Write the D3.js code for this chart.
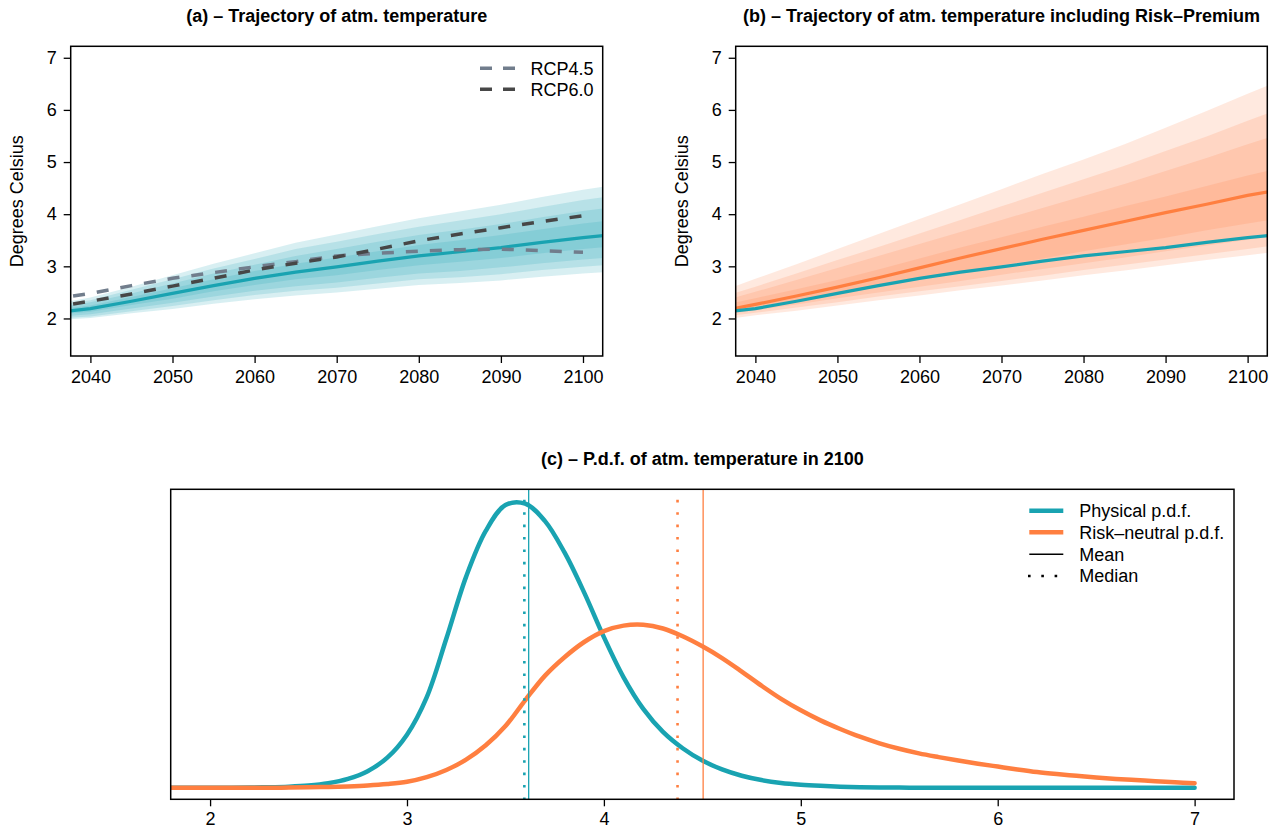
<!DOCTYPE html>
<html>
<head>
<meta charset="utf-8">
<script src="https://cdn.jsdelivr.net/npm/d3@7"></script>
<style>
body { margin:0; background:#fff; }
svg { display:block; font-family:"Liberation Sans", Arial, Helvetica, sans-serif; }
</style>
</head>
<body>
<svg id="chart" width="1278" height="830"></svg>
<script>
// ---- data ----
var years = [2035,2040,2045,2050,2055,2060,2065,2070,2075,2080,2085,2090,2095,2100,2105];

// (a) physical trajectory: central line and quantile bands
var physMid = [2.10,2.19,2.33,2.48,2.63,2.77,2.89,2.99,3.10,3.20,3.28,3.36,3.46,3.55,3.63];
var physP95 = [2.26,2.40,2.61,2.83,3.05,3.25,3.45,3.61,3.77,3.92,4.05,4.18,4.33,4.47,4.59];
var physP90 = [2.23,2.35,2.55,2.75,2.96,3.14,3.33,3.47,3.62,3.76,3.88,4.00,4.14,4.27,4.38];
var physP75 = [2.19,2.31,2.48,2.67,2.86,3.03,3.20,3.33,3.47,3.60,3.70,3.81,3.94,4.06,4.16];
var physP60 = [2.15,2.25,2.41,2.58,2.75,2.91,3.05,3.17,3.29,3.41,3.50,3.60,3.71,3.82,3.91];
var physP40 = [2.06,2.13,2.26,2.38,2.52,2.64,2.75,2.83,2.93,3.02,3.09,3.16,3.25,3.33,3.40];
var physP25 = [2.02,2.08,2.19,2.30,2.42,2.53,2.62,2.69,2.78,2.86,2.91,2.98,3.06,3.13,3.19];
var physP10 = [1.99,2.04,2.14,2.24,2.35,2.45,2.53,2.59,2.67,2.75,2.79,2.85,2.93,2.99,3.05];
var physP5  = [1.96,2.01,2.10,2.18,2.28,2.37,2.44,2.50,2.57,2.64,2.68,2.73,2.80,2.86,2.91];

// (a) RCP scenarios
var rcpYears = [2035,2040,2045,2050,2055,2060,2065,2070,2075,2080,2085,2090,2095,2100];
var rcp45 = [2.36,2.48,2.63,2.77,2.88,2.99,3.09,3.20,3.25,3.29,3.32,3.33,3.30,3.27];
var rcp60 = [2.21,2.33,2.47,2.62,2.77,2.93,3.06,3.18,3.33,3.49,3.62,3.74,3.86,3.97];

// (b) risk-neutral trajectory
var rnMid = [2.12,2.27,2.43,2.60,2.78,2.97,3.16,3.34,3.52,3.69,3.86,4.03,4.19,4.36,4.50];
var rnP95 = [2.47,2.76,3.04,3.33,3.62,3.91,4.19,4.48,4.77,5.05,5.34,5.66,5.98,6.31,6.63];
var rnP90 = [2.37,2.61,2.86,3.12,3.37,3.63,3.89,4.15,4.41,4.67,4.93,5.21,5.49,5.79,6.08];
var rnP75 = [2.29,2.51,2.74,2.97,3.20,3.43,3.66,3.89,4.12,4.35,4.58,4.83,5.08,5.34,5.59];
var rnP60 = [2.22,2.39,2.56,2.74,2.94,3.15,3.36,3.56,3.76,3.95,4.15,4.34,4.54,4.74,4.93];
var rnP40 = [2.09,2.22,2.35,2.49,2.62,2.75,2.89,3.02,3.15,3.29,3.42,3.55,3.69,3.82,3.95];
var rnP25 = [2.05,2.16,2.27,2.39,2.50,2.61,2.72,2.84,2.95,3.06,3.17,3.29,3.40,3.51,3.62];
var rnP10 = [2.01,2.11,2.21,2.31,2.42,2.52,2.62,2.72,2.82,2.93,3.03,3.13,3.23,3.33,3.44];
var rnP5  = [1.96,2.06,2.15,2.25,2.35,2.44,2.54,2.63,2.73,2.83,2.92,3.02,3.12,3.21,3.31];

// (c) densities in 2100 (relative heights), 1.8 .. 7.0 by 0.1
var pdfTemp = [1.8,1.9,2.0,2.1,2.2,2.3,2.4,2.5,2.6,2.7,2.8,2.9,3.0,3.1,3.2,3.3,3.4,3.5,3.6,3.7,3.8,3.9,
               4.0,4.1,4.2,4.3,4.4,4.5,4.6,4.7,4.8,4.9,5.0,5.1,5.2,5.3,5.4,5.5,5.6,5.7,5.8,5.9,
               6.0,6.1,6.2,6.3,6.4,6.5,6.6,6.7,6.8,6.9,7.0];
var pdfPhys = [0,0,0,0,0.001,0.002,0.004,0.008,0.016,0.031,0.058,0.105,0.185,0.315,0.52,0.735,0.895,0.985,0.99,0.93,0.82,0.68,
               0.525,0.385,0.275,0.195,0.138,0.095,0.064,0.042,0.027,0.017,0.011,0.007,0.004,0.002,0.001,0.001,0,0,0,0,
               0,0,0,0,0,0,0,0,0,0,0];
var pdfRisk = [0,0,0,0,0,0,0.001,0.002,0.003,0.005,0.008,0.013,0.021,0.037,0.062,0.098,0.148,0.215,0.305,0.39,0.455,0.508,
               0.546,0.565,0.568,0.555,0.528,0.493,0.452,0.405,0.356,0.31,0.27,0.235,0.205,0.178,0.155,0.136,0.12,0.107,0.095,0.084,
               0.074,0.064,0.055,0.048,0.042,0.036,0.031,0.027,0.023,0.019,0.016];
var physMean = 3.618, physMedian = 3.596;
var riskMean = 4.504, riskMedian = 4.374;

var yearTicks = [2040,2050,2060,2070,2080,2090,2100];
var tempTicks = [2,3,4,5,6,7];

// ---- drawing ----
var svg = d3.select('#chart');
var teal = '#19a3b1', orange = '#ff7f40';
var col45 = '#717d8c', col60 = '#474747';
var FS = 18;

function clipped(box, id) {
    svg.append('clipPath').attr('id', id).append('rect')
        .attr('x', box.l).attr('y', box.t).attr('width', box.r - box.l).attr('height', box.b - box.t);
    return svg.append('g').attr('clip-path', 'url(#' + id + ')');
}

function styleAxis(g) {
    g.attr('font-size', FS).attr('font-family', null);
    g.select('.domain').remove();
    g.selectAll('.tick line').attr('stroke', '#000').attr('stroke-width', 1.3);
    g.selectAll('.tick text').attr('fill', '#000');
}

function drawBox(box) {
    svg.append('rect').attr('x', box.l).attr('y', box.t)
        .attr('width', box.r - box.l).attr('height', box.b - box.t)
        .attr('fill', 'none').attr('stroke', '#000').attr('stroke-width', 1.5);
}

function title(txt, cx, y) {
    svg.append('text').attr('x', cx).attr('y', y).attr('text-anchor', 'middle')
        .attr('font-size', FS).attr('font-weight', 'bold').text(txt);
}

function trajPanel(box, id) {
    var x = d3.scaleLinear().domain([2037.6, 2102.4]).range([box.l, box.r]);
    var y = d3.scaleLinear().domain([1.28, 7.22]).range([box.b, box.t]);
    var g = clipped(box, id);
    svg.append('g').attr('transform', 'translate(0,' + box.b + ')')
        .call(d3.axisBottom(x).tickValues(yearTicks).tickSize(7).tickPadding(7).tickFormat(d3.format('d')))
        .call(styleAxis);
    svg.append('g').attr('transform', 'translate(' + box.l + ',0)')
        .call(d3.axisLeft(y).tickValues([2,3,4,5,6,7]).tickSize(7).tickPadding(7).tickFormat(d3.format('d')))
        .call(styleAxis);
    svg.append('text').attr('transform', 'translate(' + (box.l - 47.5) + ',' + ((box.t + box.b) / 2) + ') rotate(-90)')
        .attr('text-anchor', 'middle').attr('font-size', FS).text('Degrees Celsius');
    return {x: x, y: y, g: g};
}

function bands(p, pairs, color) {
    pairs.forEach(function (pr) {
        var area = d3.area()
            .x(function (d, i) { return p.x(years[i]); })
            .y0(function (d, i) { return p.y(pr[0][i]); })
            .y1(function (d, i) { return p.y(pr[1][i]); });
        p.g.append('path').attr('d', area(years)).attr('fill', color).attr('fill-opacity', 0.17);
    });
}

function line(p, xs, vals, color, w, dash) {
    var ln = d3.line().x(function (d, i) { return p.x(xs[i]); }).y(function (d) { return p.y(d); });
    var path = p.g.append('path').attr('d', ln(vals)).attr('fill', 'none')
        .attr('stroke', color).attr('stroke-width', w);
    if (dash) path.attr('stroke-dasharray', dash);
    return path;
}

// panel (a)
var boxA = {l: 70.7, r: 602.7, t: 46.3, b: 356};
var pa = trajPanel(boxA, 'clipA');
bands(pa, [[physP5, physP95], [physP10, physP90], [physP25, physP75], [physP40, physP60]], teal);
line(pa, years, physMid, teal, 3.2);
line(pa, rcpYears, rcp45, col45, 3.5, '12,12');
line(pa, rcpYears, rcp60, col60, 3.5, '12,12');
drawBox(boxA);
title('(a) \u2013 Trajectory of atm. temperature', (boxA.l + boxA.r) / 2, 22);

var legA = svg.append('g');
[['RCP4.5', col45, 68.3], ['RCP6.0', col60, 89.3]].forEach(function (r) {
    legA.append('line').attr('x1', 480).attr('x2', 515).attr('y1', r[2]).attr('y2', r[2])
        .attr('stroke', r[1]).attr('stroke-width', 3.5).attr('stroke-dasharray', '12,11');
    legA.append('text').attr('x', 530.5).attr('y', r[2]).attr('dy', '0.36em')
        .attr('font-size', FS).text(r[0]);
});

// panel (b)
var boxB = {l: 735.7, r: 1267.3, t: 46.3, b: 356};
var pb = trajPanel(boxB, 'clipB');
bands(pb, [[rnP5, rnP95], [rnP10, rnP90], [rnP25, rnP75], [rnP40, rnP60]], orange);
line(pb, years, rnMid, orange, 3.2);
line(pb, years, physMid, teal, 3.2);
drawBox(boxB);
title('(b) \u2013 Trajectory of atm. temperature including Risk\u2013Premium', (boxB.l + boxB.r) / 2, 22);

// panel (c)
var boxC = {l: 170.7, r: 1234, t: 489.3, b: 799.3};
var xc = d3.scaleLinear().domain([1.8, 7.2]).range([boxC.l, boxC.r]);
var yc = d3.scaleLinear().domain([-0.04, 1.04]).range([boxC.b, boxC.t]);
var gc = clipped(boxC, 'clipC');
svg.append('g').attr('transform', 'translate(0,' + boxC.b + ')')
    .call(d3.axisBottom(xc).tickValues(tempTicks).tickSize(7).tickPadding(6).tickFormat(d3.format('d')))
    .call(styleAxis);

var pdfLine = d3.line().curve(d3.curveCatmullRom)
    .x(function (d, i) { return xc(pdfTemp[i]); }).y(function (d) { return yc(d); });
gc.append('path').attr('d', pdfLine(pdfPhys)).attr('fill', 'none').attr('stroke', teal)
    .attr('stroke-width', 4.5).attr('stroke-linecap', 'round');
gc.append('path').attr('d', pdfLine(pdfRisk)).attr('fill', 'none').attr('stroke', orange)
    .attr('stroke-width', 4.5).attr('stroke-linecap', 'round');

function vline(v, color, dotted) {
    var l = gc.append('line').attr('x1', xc(v)).attr('x2', xc(v)).attr('y1', boxC.t).attr('y2', boxC.b)
        .attr('stroke', color);
    if (dotted) l.attr('stroke-width', 2.6).attr('stroke-dasharray', '2.6,9.8').attr('y1', boxC.t + 10.5);
    else l.attr('stroke-width', 1.3);
}
vline(physMedian, teal, true);
vline(physMean, teal, false);
vline(riskMedian, orange, true);
vline(riskMean, orange, false);
drawBox(boxC);
title('(c) \u2013 P.d.f. of atm. temperature in 2100', (boxC.l + boxC.r) / 2, 465);

var legC = svg.append('g');
var legRows = [
    {label: 'Physical p.d.f.', color: teal, w: 4.5, y: 510.7},
    {label: 'Risk\u2013neutral p.d.f.', color: orange, w: 4.5, y: 532.3},
    {label: 'Mean', color: '#000', w: 1.5, y: 554.3},
    {label: 'Median', color: '#000', w: 2.6, y: 576, dash: '2.6,10.7'}
];
legRows.forEach(function (r) {
    var l = legC.append('line').attr('x1', r.dash ? 1028 : 1029.3).attr('x2', 1063.3)
        .attr('y1', r.y).attr('y2', r.y).attr('stroke', r.color).attr('stroke-width', r.w);
    if (r.dash) l.attr('stroke-dasharray', r.dash);
    legC.append('text').attr('x', 1079.3).attr('y', r.y).attr('dy', '0.36em')
        .attr('font-size', FS).text(r.label);
});
</script>
</body>
</html>
